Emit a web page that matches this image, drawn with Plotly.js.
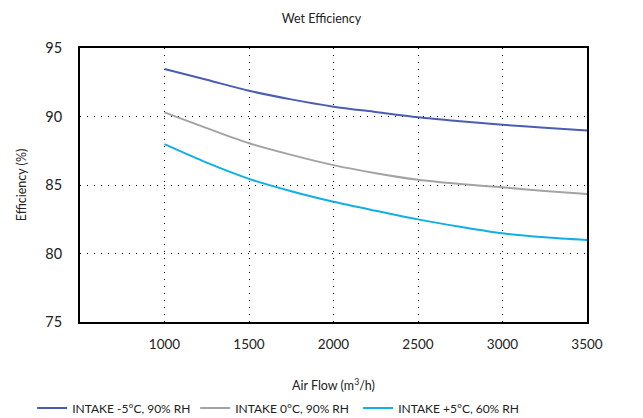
<!DOCTYPE html>
<html>
<head>
<meta charset="utf-8">
<script src="https://cdn.plot.ly/plotly-3.0.1.min.js"></script>
<style>html,body{margin:0;padding:0;background:#fff;}#chart{width:643px;height:418px;}</style>
</head>
<body>
<div id="chart"></div>
<script>
var airFlow = [1000, 1250, 1500, 1750, 2000, 2250, 2500, 2750, 3000, 3250, 3500];
var intakeMinus5 = [93.47, 92.68, 91.88, 91.25, 90.72, 90.33, 89.95, 89.66, 89.40, 89.17, 88.97];
var intake0 = [90.30, 89.15, 88.05, 87.20, 86.45, 85.86, 85.38, 85.07, 84.83, 84.56, 84.34];
var intakePlus5 = [87.98, 86.63, 85.45, 84.55, 83.78, 83.12, 82.49, 81.95, 81.47, 81.18, 80.98];
var seriesNames = ["INTAKE -5°C, 90% RH", "INTAKE 0°C, 90% RH", "INTAKE +5°C, 60% RH"];
var xTicks = [1000, 1500, 2000, 2500, 3000, 3500];
var yTicks = [75, 80, 85, 90, 95];

var font = "Lato, 'Noto Sans', sans-serif";
function tr(y, name, color) {
  return {x: airFlow, y: y, name: name, type: 'scatter', mode: 'lines',
          line: {color: color, width: 2, shape: 'spline', smoothing: 0.8}};
}
var data = [
  tr(intakeMinus5, seriesNames[0], '#4a5db3'),
  tr(intake0, seriesNames[1], '#a3a3a3'),
  tr(intakePlus5, seriesNames[2], '#12aee6')
];
var layout = {
  width: 643, height: 418,
  margin: {l: 80, r: 56, t: 48, b: 96},
  paper_bgcolor: '#fff', plot_bgcolor: '#fff',
  font: {family: font, size: 13, color: '#222'},
  title: {text: 'Wet Efficiency', x: 0.5, xanchor: 'center', y: 0.955, yanchor: 'middle', font: {size: 12.5, family: font, color: '#222'}},
  showlegend: true,
  legend: {orientation: 'h', xref: 'container', yref: 'container', x: 0.05, xanchor: 'left', y: 0.024, yanchor: 'middle',
           font: {size: 12, family: font, color: '#222'}, itemwidth: 30, tracegroupgap: 0, entrywidth: 118, entrywidthmode: 'pixels'},
  xaxis: {
    range: [500, 3500], tickvals: xTicks, ticks: '', showline: true, mirror: true, linecolor: '#000', linewidth: 2,
    showgrid: true, gridcolor: '#000', gridwidth: 1, griddash: '1px,6px', zeroline: false,
    tickfont: {size: 13.5, family: font, color: '#222'}, ticklabelstandoff: 9,
    title: {text: 'Air Flow (m<sup>3</sup>/h)', standoff: 30, font: {size: 12.5, family: font, color: '#222'}}
  },
  yaxis: {
    range: [75, 95], tickvals: yTicks, ticks: '', showline: true, mirror: true, linecolor: '#000', linewidth: 2,
    showgrid: true, gridcolor: '#000', gridwidth: 1, griddash: '1px,6px', zeroline: false,
    tickfont: {size: 14.5, family: font, color: '#222'}, ticklabelstandoff: 13,
    title: {text: 'Efficiency (%)', standoff: 16, font: {size: 12.5, family: font, color: '#222'}}
  }
};
Plotly.newPlot('chart', data, layout, {displayModeBar: false, staticPlot: true});
</script>
</body>
</html>
